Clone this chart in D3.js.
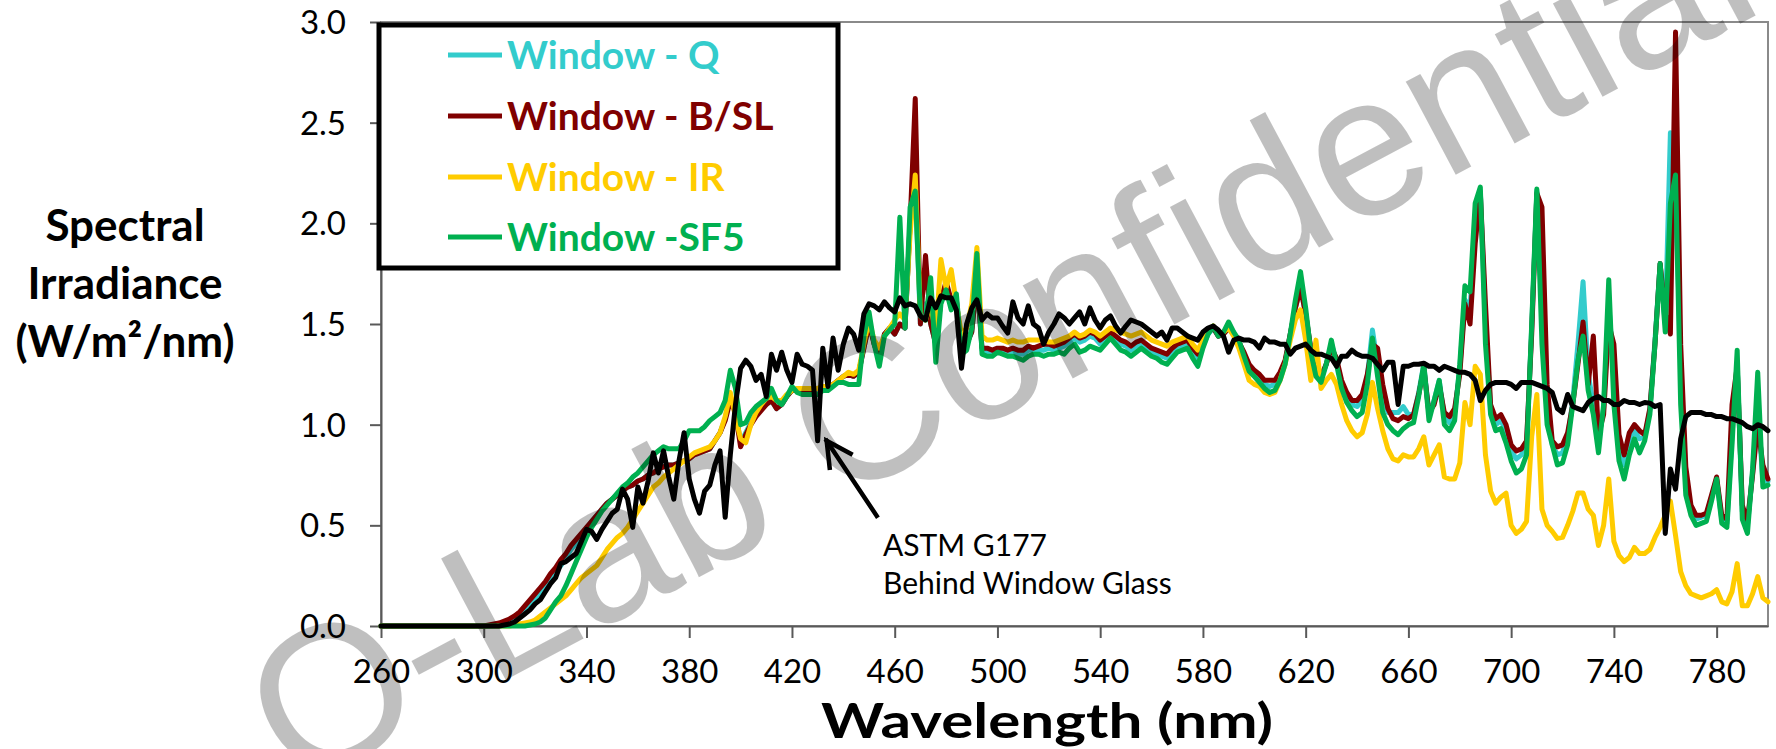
<!DOCTYPE html>
<html><head><meta charset="utf-8">
<script src="https://cdn.jsdelivr.net/npm/d3@7"></script>
<style>
body{margin:0;background:#fff;}
svg{display:block;}
</style></head><body>
<svg id="chart" width="1776" height="749"></svg>
<script>
const wavelengths = [260,280,
300,302,304,306,308,310,312,314,316,318,
320,322,324,326,328,330,332,334,336,338,
340,342,344,346,348,350,352,354,356,358,
360,362,364,366,368,370,372,374,376,378,
380,382,384,386,388,390,392,394,396,398,
400,402,404,406,408,410,412,414,416,418,
420,422,424,426,428,430,432,434,436,438,
440,442,444,446,448,450,452,454,456,458,
460,462,464,466,468,470,472,474,476,478,
480,482,484,486,488,490,492,494,496,498,
500,502,504,506,508,510,512,514,516,518,
520,522,524,526,528,530,532,534,536,538,
540,542,544,546,548,550,552,554,556,558,
560,562,564,566,568,570,572,574,576,578,
580,582,584,586,588,590,592,594,596,598,
600,602,604,606,608,610,612,614,616,618,
620,622,624,626,628,630,632,634,636,638,
640,642,644,646,648,650,652,654,656,658,
660,662,664,666,668,670,672,674,676,678,
680,682,684,686,688,690,692,694,696,698,
700,702,704,706,708,710,712,714,716,718,
720,722,724,726,728,730,732,734,736,738,
740,742,744,746,748,750,752,754,756,758,
760,762,764,766,768,770,772,774,776,778,
780,782,784,786,788,790,792,794,796,798,
800];

const windowQ = [0,0,
0,0,0.002,0.005,0.01,0.02,0.03,0.045,0.07,0.10,
0.13,0.16,0.19,0.23,0.27,0.30,0.34,0.38,0.41,0.45,
0.48,0.52,0.55,0.58,0.61,0.63,0.65,0.67,0.69,0.70,
0.72,0.73,0.75,0.76,0.78,0.79,0.80,0.80,0.81,0.82,
0.83,0.85,0.86,0.87,0.88,0.92,0.96,1.03,1.14,1.07,
0.91,0.96,1.01,1.05,1.08,1.10,1.12,1.08,1.10,1.14,
1.17,1.17,1.16,1.17,1.17,1.18,1.18,1.19,1.20,1.22,
1.24,1.25,1.24,1.26,1.38,1.50,1.40,1.33,1.45,1.48,
1.45,1.50,1.48,2.00,2.20,1.50,1.60,1.50,1.40,1.62,
1.68,1.62,1.62,1.38,1.40,1.46,1.72,1.37,1.36,1.36,
1.37,1.36,1.36,1.36,1.35,1.35,1.37,1.37,1.37,1.37,
1.38,1.37,1.38,1.39,1.41,1.43,1.41,1.42,1.44,1.43,
1.40,1.42,1.44,1.42,1.40,1.39,1.37,1.39,1.40,1.38,
1.36,1.35,1.34,1.33,1.36,1.38,1.39,1.40,1.36,1.33,
1.39,1.45,1.48,1.44,1.45,1.48,1.45,1.41,1.35,1.28,
1.25,1.23,1.20,1.19,1.20,1.24,1.31,1.45,1.58,1.68,
1.55,1.37,1.26,1.23,1.30,1.40,1.32,1.20,1.14,1.10,
1.09,1.12,1.24,1.47,1.30,1.15,1.06,1.06,1.06,1.09,
1.05,1.05,1.16,1.30,1.05,1.12,1.22,1.04,1.01,1.06,
1.28,1.62,1.58,1.95,2.16,1.50,1.08,1.00,1.02,0.97,
0.87,0.83,0.85,0.90,1.48,2.16,1.80,1.10,0.90,0.85,
0.86,0.94,1.12,1.40,1.71,1.25,1.10,0.92,1.08,1.60,
1.25,0.90,0.80,0.92,0.97,0.93,0.94,1.07,1.42,1.80,
1.50,2.45,2.20,1.30,0.72,0.57,0.53,0.54,0.55,0.64,
0.73,0.53,0.51,0.95,1.30,0.57,0.50,0.76,1.10,0.72,
0.72];

const windowBSL = [0,0,
0,0.005,0.01,0.015,0.025,0.035,0.05,0.07,0.10,0.13,
0.16,0.19,0.22,0.26,0.29,0.33,0.36,0.40,0.43,0.46,
0.49,0.52,0.55,0.58,0.61,0.63,0.65,0.67,0.69,0.70,
0.72,0.73,0.75,0.76,0.78,0.79,0.80,0.80,0.81,0.82,
0.83,0.85,0.86,0.87,0.88,0.92,0.96,1.02,1.12,1.06,
0.89,0.95,1.00,1.04,1.07,1.10,1.12,1.08,1.10,1.14,
1.17,1.17,1.16,1.17,1.17,1.18,1.18,1.19,1.20,1.22,
1.24,1.25,1.24,1.26,1.38,1.50,1.40,1.33,1.45,1.48,
1.45,1.50,1.48,2.00,2.62,1.50,1.84,1.50,1.40,1.62,
1.71,1.62,1.62,1.38,1.40,1.46,1.72,1.38,1.38,1.37,
1.38,1.38,1.37,1.38,1.37,1.37,1.39,1.38,1.39,1.40,
1.40,1.39,1.40,1.41,1.43,1.45,1.43,1.44,1.46,1.45,
1.42,1.44,1.46,1.44,1.42,1.41,1.39,1.41,1.42,1.40,
1.38,1.37,1.36,1.35,1.38,1.40,1.41,1.42,1.38,1.35,
1.40,1.46,1.48,1.44,1.45,1.48,1.45,1.41,1.36,1.30,
1.27,1.25,1.22,1.22,1.22,1.26,1.32,1.45,1.58,1.68,
1.55,1.38,1.27,1.24,1.30,1.38,1.33,1.22,1.16,1.12,
1.12,1.15,1.25,1.40,1.38,1.20,1.08,1.03,1.02,1.04,
1.03,1.05,1.15,1.28,1.06,1.10,1.20,1.06,1.04,1.08,
1.25,1.60,1.50,1.90,2.15,1.60,1.10,1.03,1.05,1.00,
0.90,0.87,0.88,0.92,1.45,2.15,2.08,1.20,0.92,0.89,
0.90,0.96,1.10,1.30,1.51,1.20,1.44,0.95,1.05,1.50,
1.40,0.95,0.85,0.96,1.00,0.97,0.95,1.08,1.40,1.80,
1.55,1.45,2.95,1.40,0.79,0.60,0.55,0.55,0.56,0.65,
0.74,0.55,0.53,1.10,1.29,0.60,0.52,0.75,1.00,0.80,
0.73];

const windowIR = [0,0,
0,0,0,0,0,0,0.005,0.01,0.015,0.02,
0.03,0.05,0.07,0.09,0.11,0.13,0.15,0.18,0.21,0.24,
0.26,0.28,0.30,0.34,0.38,0.41,0.44,0.46,0.49,0.53,
0.57,0.61,0.65,0.69,0.71,0.74,0.76,0.78,0.80,0.82,
0.84,0.86,0.87,0.88,0.89,0.92,0.96,1.04,1.16,1.04,
0.93,0.91,1.00,1.06,1.10,1.13,1.14,1.12,1.12,1.15,
1.17,1.18,1.18,1.18,1.18,1.18,1.19,1.19,1.20,1.22,
1.24,1.26,1.25,1.27,1.40,1.52,1.42,1.38,1.44,1.48,
1.52,1.55,1.52,1.95,2.24,1.54,1.52,1.60,1.45,1.82,
1.68,1.77,1.60,1.45,1.48,1.60,1.88,1.44,1.42,1.42,
1.43,1.42,1.41,1.42,1.41,1.41,1.42,1.42,1.42,1.42,
1.41,1.41,1.42,1.43,1.44,1.46,1.44,1.45,1.47,1.46,
1.44,1.46,1.48,1.47,1.46,1.45,1.44,1.45,1.46,1.44,
1.42,1.41,1.40,1.39,1.41,1.42,1.43,1.44,1.40,1.37,
1.42,1.47,1.49,1.45,1.46,1.48,1.44,1.38,1.30,1.22,
1.20,1.19,1.16,1.15,1.16,1.22,1.30,1.42,1.52,1.57,
1.42,1.22,1.42,1.18,1.22,1.25,1.20,1.10,1.02,0.97,
0.94,0.96,1.05,1.21,1.08,0.97,0.88,0.83,0.82,0.85,
0.84,0.84,0.88,0.94,0.80,0.85,0.90,0.74,0.73,0.73,
0.81,1.11,1.00,1.29,1.25,0.85,0.67,0.61,0.64,0.66,
0.50,0.46,0.48,0.52,0.94,1.15,0.58,0.50,0.47,0.435,
0.44,0.50,0.57,0.66,0.66,0.58,0.55,0.40,0.50,0.73,
0.42,0.35,0.32,0.34,0.39,0.36,0.36,0.38,0.44,0.49,
0.55,0.62,0.45,0.27,0.20,0.16,0.15,0.14,0.15,0.16,
0.18,0.12,0.11,0.17,0.31,0.10,0.10,0.16,0.245,0.14,
0.12];

const windowSF5 = [0,0,
0,0,0,0,0,0,0,0,0,0.005,
0.01,0.02,0.04,0.08,0.12,0.15,0.20,0.26,0.32,0.38,
0.44,0.49,0.53,0.57,0.60,0.63,0.66,0.69,0.71,0.74,
0.76,0.79,0.82,0.85,0.87,0.89,0.88,0.88,0.88,0.92,
0.97,0.97,0.97,0.99,1.02,1.04,1.06,1.12,1.27,1.18,
1.00,1.01,1.06,1.09,1.11,1.13,1.18,1.12,1.10,1.14,
1.19,1.16,1.15,1.15,1.15,1.15,1.17,1.17,1.19,1.21,
1.21,1.20,1.20,1.20,1.44,1.56,1.40,1.29,1.44,1.47,
1.50,2.03,1.48,2.08,2.16,1.54,1.52,1.73,1.31,1.60,
1.67,1.57,1.65,1.35,1.37,1.48,1.85,1.35,1.34,1.34,
1.36,1.35,1.34,1.34,1.33,1.32,1.34,1.35,1.35,1.34,
1.35,1.35,1.36,1.35,1.38,1.40,1.36,1.37,1.39,1.38,
1.37,1.40,1.43,1.40,1.37,1.36,1.34,1.36,1.38,1.36,
1.34,1.33,1.31,1.30,1.33,1.36,1.37,1.38,1.33,1.29,
1.38,1.45,1.49,1.44,1.46,1.51,1.46,1.42,1.34,1.265,
1.24,1.21,1.18,1.16,1.17,1.22,1.30,1.45,1.62,1.76,
1.58,1.36,1.24,1.21,1.30,1.42,1.30,1.18,1.11,1.07,
1.04,1.06,1.20,1.43,1.24,1.06,1.00,0.97,0.95,0.98,
1.00,1.01,1.14,1.30,1.02,1.12,1.22,1.00,0.97,1.02,
1.30,1.69,1.66,2.10,2.18,1.40,1.05,0.97,0.98,0.91,
0.82,0.76,0.78,0.85,1.50,2.17,1.40,1.00,0.90,0.80,
0.81,0.90,1.10,1.32,1.44,1.17,1.05,0.86,1.10,1.72,
1.10,0.82,0.73,0.85,0.93,0.86,0.92,1.05,1.40,1.80,
1.46,2.10,2.24,1.10,0.65,0.55,0.50,0.51,0.52,0.62,
0.73,0.51,0.49,0.90,1.37,0.53,0.46,0.78,1.26,0.69,
0.70];

const astmG177 = [0,0,
0,0,0,0,0.005,0.01,0.02,0.04,0.06,0.08,
0.11,0.13,0.17,0.21,0.24,0.31,0.32,0.34,0.36,0.42,
0.48,0.47,0.43,0.48,0.52,0.56,0.58,0.68,0.63,0.49,
0.69,0.61,0.72,0.86,0.76,0.87,0.74,0.63,0.82,0.96,
0.73,0.63,0.56,0.67,0.70,0.80,0.87,0.54,0.85,1.10,
1.28,1.32,1.29,1.22,1.25,1.14,1.35,1.27,1.36,1.27,
1.21,1.35,1.30,1.29,1.27,0.92,1.38,1.19,1.43,1.27,
1.40,1.48,1.45,1.37,1.55,1.60,1.59,1.57,1.61,1.58,
1.56,1.63,1.59,1.60,1.59,1.54,1.52,1.63,1.58,1.64,
1.63,1.63,1.57,1.28,1.50,1.58,1.62,1.52,1.55,1.53,
1.53,1.49,1.455,1.61,1.53,1.50,1.59,1.50,1.48,1.40,
1.46,1.50,1.55,1.53,1.50,1.53,1.56,1.50,1.58,1.52,
1.48,1.52,1.54,1.49,1.455,1.49,1.52,1.51,1.50,1.48,
1.46,1.44,1.46,1.42,1.48,1.48,1.46,1.44,1.43,1.42,
1.46,1.48,1.49,1.47,1.44,1.36,1.42,1.43,1.42,1.42,
1.41,1.38,1.43,1.41,1.41,1.40,1.40,1.35,1.38,1.39,
1.40,1.37,1.35,1.35,1.34,1.33,1.29,1.34,1.34,1.37,
1.35,1.34,1.34,1.33,1.30,1.27,1.31,1.31,1.10,1.29,
1.29,1.30,1.30,1.305,1.29,1.29,1.27,1.29,1.28,1.27,
1.26,1.26,1.25,1.22,1.12,1.17,1.20,1.21,1.21,1.21,
1.20,1.18,1.21,1.21,1.21,1.20,1.19,1.18,1.16,1.08,
1.06,1.15,1.09,1.08,1.07,1.11,1.13,1.14,1.12,1.12,
1.10,1.10,1.12,1.11,1.11,1.10,1.11,1.107,1.09,1.10,
0.46,0.78,0.68,0.93,1.04,1.06,1.06,1.06,1.05,1.05,
1.04,1.04,1.03,1.03,1.02,1.01,0.99,0.98,1.00,0.99,
0.97];

const seriesNames = ["Window - Q", "Window - B/SL", "Window - IR", "Window -SF5"];
const seriesColors = ["#33CCCC", "#800000", "#FFCC00", "#00B050"];
const xTickValues = [260,300,340,380,420,460,500,540,580,620,660,700,740,780];
const yTickValues = [0,0.5,1.0,1.5,2.0,2.5,3.0];
const yTitleLines = ["Spectral", "Irradiance", "(W/m\u00B2/nm)"];
const xTitle = "Wavelength (nm)";
const annotationLines = ["ASTM G177", "Behind Window Glass"];
const annotationTarget = {wavelength: 430, value: 0.92};
const watermarkText = "Q-Lab Confidential";

const W = 1776, H = 749;
const plot = {left: 381, right: 1768, top: 22, bottom: 626};
const svg = d3.select("#chart");
const FONT = "Lato, 'Open Sans', sans-serif";

const x = d3.scaleLinear().domain([260, 800]).range([plot.left, plot.right]);
const y = d3.scaleLinear().domain([0, 3]).range([plot.bottom, plot.top]);

svg.append("rect").attr("width", W).attr("height", H).attr("fill", "#fff");

// plot border (top/right)
svg.append("rect")
  .attr("x", plot.left).attr("y", plot.top)
  .attr("width", plot.right - plot.left).attr("height", plot.bottom - plot.top)
  .attr("fill", "none").attr("stroke", "#8a8a8a").attr("stroke-width", 2);

// axes
const xAxis = svg.append("g").attr("transform", `translate(0,${plot.bottom})`)
  .call(d3.axisBottom(x).tickValues(xTickValues).tickSize(12).tickSizeOuter(0).tickFormat(d3.format("d")));
xAxis.select(".domain").attr("stroke", "#595959").attr("stroke-width", 2);
xAxis.selectAll(".tick line").attr("stroke", "#595959").attr("stroke-width", 2);
xAxis.selectAll(".tick text").attr("y", 45).attr("dy", "0.35em")
  .attr("font-family", FONT).attr("font-size", 33).attr("fill", "#000");

const yAxis = svg.append("g").attr("transform", `translate(${plot.left},0)`)
  .call(d3.axisLeft(y).tickValues(yTickValues).tickSize(11).tickSizeOuter(0).tickPadding(24).tickFormat(d3.format(".1f")));
yAxis.select(".domain").attr("stroke", "#595959").attr("stroke-width", 2);
yAxis.selectAll(".tick line").attr("stroke", "#595959").attr("stroke-width", 2);
yAxis.selectAll(".tick text").attr("dy", "0.35em")
  .attr("font-family", FONT).attr("font-size", 33).attr("fill", "#000");

// series
const allSeries = [windowQ, windowBSL, windowIR, windowSF5];
const line = d3.line().x((d, i) => x(wavelengths[i])).y(d => y(d));
allSeries.forEach((s, k) => {
  svg.append("path").datum(s).attr("d", line)
    .attr("fill", "none").attr("stroke", seriesColors[k])
    .attr("stroke-width", 5).attr("stroke-linejoin", "round").attr("stroke-linecap", "round");
});
svg.append("path").datum(astmG177).attr("d", line)
  .attr("fill", "none").attr("stroke", "#000")
  .attr("stroke-width", 5).attr("stroke-linejoin", "round").attr("stroke-linecap", "round");

// legend
const legend = svg.append("g");
legend.append("rect").attr("x", 379).attr("y", 25).attr("width", 459).attr("height", 243)
  .attr("fill", "#fff").attr("stroke", "#000").attr("stroke-width", 5);
const rowY = [55, 116, 177, 237];
seriesNames.forEach((name, k) => {
  legend.append("line").attr("x1", 448).attr("x2", 502).attr("y1", rowY[k]).attr("y2", rowY[k])
    .attr("stroke", seriesColors[k]).attr("stroke-width", 5);
  legend.append("text").attr("x", 507).attr("y", rowY[k]).attr("dy", "0.36em")
    .attr("font-family", FONT).attr("font-weight", "bold").attr("font-size", 39)
    .attr("fill", seriesColors[k]).text(name);
});

// axis titles
const yt = svg.append("text").attr("text-anchor", "middle")
  .attr("font-family", FONT).attr("font-weight", "bold").attr("font-size", 44).attr("fill", "#000");
yTitleLines.forEach((t, i) => {
  yt.append("tspan").attr("x", 125).attr("y", 225 + i * 58).attr("dy", "0.36em").text(t);
});
svg.append("text").attr("x", 1047).attr("y", 738).attr("text-anchor", "middle")
  .attr("font-family", FONT).attr("font-weight", "bold").attr("font-size", 48).attr("fill", "#000")
  .attr("textLength", 452).attr("lengthAdjust", "spacingAndGlyphs")
  .text(xTitle);

// annotation
const tipX = x(annotationTarget.wavelength) + 9, tipY = y(annotationTarget.value);
const tailX = tipX + 50, tailY = tipY + 75;
const ann = svg.append("g").attr("stroke", "#000").attr("stroke-width", 4.5).attr("stroke-linecap", "square");
ann.append("line").attr("x1", tailX).attr("y1", tailY).attr("x2", tipX).attr("y2", tipY);
ann.append("polyline").attr("fill", "none")
  .attr("points", `${tipX + 3},${tipY + 27} ${tipX},${tipY} ${tipX + 24},${tipY + 13}`);
annotationLines.forEach((t, i) => {
  svg.append("text").attr("x", 883).attr("y", 545 + i * 38).attr("dy", "0.36em")
    .attr("font-family", FONT).attr("font-size", 30).attr("fill", "#000").text(t);
});

// watermark
svg.append("text").attr("transform", "translate(295,792) rotate(-28)")
  .attr("font-family", "'Liberation Sans', Arial, sans-serif").attr("font-size", 200)
  .attr("fill", "#000").attr("fill-opacity", 0.25).text(watermarkText);
</script>
</body></html>
